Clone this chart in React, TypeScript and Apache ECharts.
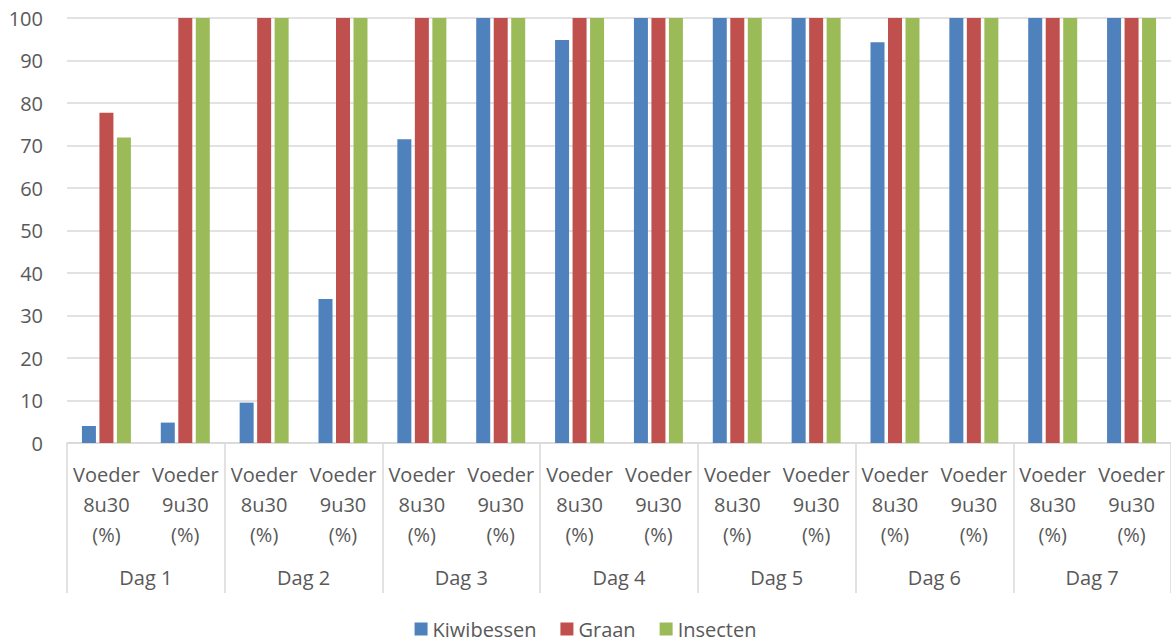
import React, { useEffect, useRef } from "react";
import * as echarts from "echarts";

const categories = [
  "Voeder\n8u30\n(%)", "Voeder\n9u30\n(%)",
  "Voeder\n8u30\n(%)", "Voeder\n9u30\n(%)",
  "Voeder\n8u30\n(%)", "Voeder\n9u30\n(%)",
  "Voeder\n8u30\n(%)", "Voeder\n9u30\n(%)",
  "Voeder\n8u30\n(%)", "Voeder\n9u30\n(%)",
  "Voeder\n8u30\n(%)", "Voeder\n9u30\n(%)",
  "Voeder\n8u30\n(%)", "Voeder\n9u30\n(%)",
];
const days = ["Dag 1", "Dag 2", "Dag 3", "Dag 4", "Dag 5", "Dag 6", "Dag 7"];
const kiwibessen = [4, 4.8, 9.5, 33.9, 71.5, 100, 94.8, 100, 100, 100, 94.3, 100, 100, 100];
const graan = [77.7, 100, 100, 100, 100, 100, 100, 100, 100, 100, 100, 100, 100, 100];
const insecten = [71.9, 100, 100, 100, 100, 100, 100, 100, 100, 100, 100, 100, 100, 100];

const FONT = "Open Sans";
const TXT = "#595959";
const GRID = "#D9D9D9";

export default function App() {
  const ref = useRef<HTMLDivElement>(null);
  useEffect(() => {
    document.body.style.margin = "0";
    const chart = echarts.init(ref.current!, null, { renderer: "svg" });
    chart.setOption({
      animation: false,
      textStyle: { fontFamily: FONT },
      grid: { left: 67, right: 0, top: 18, bottom: 200, containLabel: false },
      legend: {
        bottom: -1,
        left: "center",
        icon: "rect",
        itemWidth: 13,
        itemHeight: 13,
        itemGap: 24,
        itemStyle: { borderWidth: 0 },
        textStyle: { fontSize: 20, color: TXT, fontFamily: FONT },
        data: ["Kiwibessen", "Graan", "Insecten"],
      },
      xAxis: [
        {
          type: "category",
          data: categories,
          position: "bottom",
          axisLine: { show: true, lineStyle: { color: GRID, width: 1.5 } },
          axisTick: { show: false },
          axisLabel: {
            interval: 0,
            margin: 16,
            fontSize: 20,
            lineHeight: 30,
            color: TXT,
            fontFamily: FONT,
          },
        },
        {
          type: "category",
          data: days,
          position: "bottom",
          offset: 0,
          axisLine: { show: false },
          axisTick: {
            show: true,
            interval: 0,
            length: 150,
            lineStyle: { color: GRID, width: 1.5 },
          },
          axisLabel: {
            interval: 0,
            margin: 124,
            fontSize: 20,
            color: TXT,
            fontFamily: FONT,
          },
        },
      ],
      yAxis: {
        type: "value",
        min: 0,
        max: 100,
        interval: 10,
        axisLine: { show: false },
        axisTick: { show: false },
        splitLine: { lineStyle: { color: GRID, width: 1.5 } },
        axisLabel: { fontSize: 20, color: TXT, margin: 24, fontFamily: FONT },
      },
      series: [
        { name: "Kiwibessen", type: "bar", data: kiwibessen, itemStyle: { color: "#4F81BD" }, barWidth: 14, barGap: "25%" },
        { name: "Graan", type: "bar", data: graan, itemStyle: { color: "#C0504D" }, barWidth: 14, barGap: "25%" },
        { name: "Insecten", type: "bar", data: insecten, itemStyle: { color: "#9BBB59" }, barWidth: 14, barGap: "25%" },
      ],
    });
    return () => chart.dispose();
  }, []);
  return <div ref={ref} style={{ width: 1171, height: 643 }} />;
}
